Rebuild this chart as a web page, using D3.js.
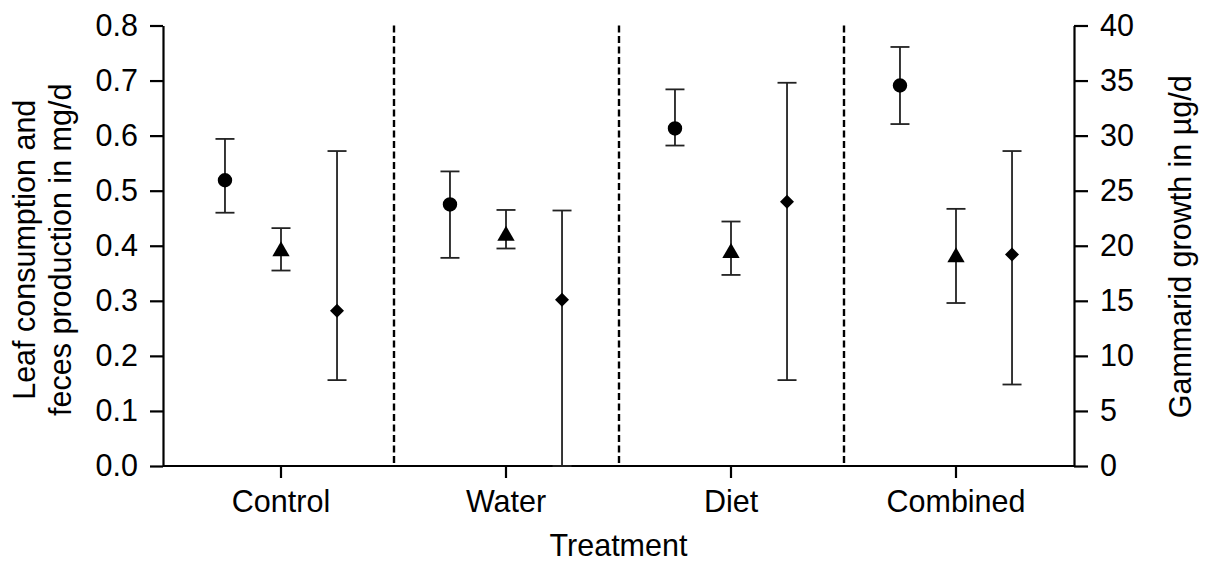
<!DOCTYPE html>
<html>
<head>
<meta charset="utf-8">
<script src="https://cdn.jsdelivr.net/npm/d3@7"></script>
<style>
  body { margin: 0; background: #fff; }
  svg text { font-family: "Liberation Sans", Arial, sans-serif; fill: #000; }
</style>
</head>
<body>
<div id="chart"></div>
<script>
// treatments on the x axis
const categories = ["Control", "Water", "Diet", "Combined"];

// leaf consumption (mg/d, left axis) - circles
const leafMean = [0.519, 0.475, 0.613, 0.691];
const leafLow  = [0.460, 0.378, 0.582, 0.621];
const leafHigh = [0.594, 0.535, 0.684, 0.761];

// feces production (mg/d, left axis) - triangles
const fecesMean = [0.390, 0.418, 0.387, 0.379];
const fecesLow  = [0.355, 0.395, 0.347, 0.296];
const fecesHigh = [0.432, 0.465, 0.444, 0.467];

// gammarid growth (µg/d, right axis) - diamonds
const growthMean = [14.1, 15.1, 24.0, 19.2];
const growthLow  = [7.8, 0, 7.8, 7.4];
const growthHigh = [28.6, 23.2, 34.8, 28.6];

const leftTicks = [0, 0.1, 0.2, 0.3, 0.4, 0.5, 0.6, 0.7, 0.8];
const rightTicks = [0, 5, 10, 15, 20, 25, 30, 35, 40];

const W = 1206, H = 563;
const margin = { top: 25.5, right: 132, bottom: 97, left: 163 };
const width = W - margin.left - margin.right,
    height = H - margin.top - margin.bottom;

const svg = d3.select("#chart").append("svg")
    .attr("width", W)
    .attr("height", H)
    .append("g")
    .attr("transform", "translate(" + margin.left + "," + margin.top + ")");

const x = d3.scaleBand()
    .domain(categories)
    .range([5.5, width - 5.5]);

const series = d3.scalePoint()
    .domain(["leaf", "feces", "growth"])
    .range([-x.bandwidth() * 0.249, x.bandwidth() * 0.249]);

const yL = d3.scaleLinear().domain([0, 0.8]).range([height, 0]);
const yR = d3.scaleLinear().domain([0, 40]).range([height, 0]);

// dashed separators between treatments
svg.selectAll(".sep")
    .data(categories.slice(1))
    .enter().append("line")
    .attr("class", "sep")
    .attr("x1", d => Math.round(x(d))).attr("x2", d => Math.round(x(d)))
    .attr("y1", 0).attr("y2", height)
    .attr("stroke", "#000")
    .attr("stroke-width", 2.4)
    .attr("stroke-dasharray", "7,3.5");

// axes
const axisFont = 30.5;

const gl = svg.append("g")
    .call(d3.axisLeft(yL).tickValues(leftTicks).tickFormat(d3.format(".1f"))
        .tickSize(13).tickSizeOuter(0).tickPadding(12));

const gr = svg.append("g")
    .attr("transform", "translate(" + width + ",0)")
    .call(d3.axisRight(yR).tickValues(rightTicks).tickFormat(d3.format("d"))
        .tickSize(14).tickSizeOuter(0).tickPadding(12));

const gb = svg.append("g")
    .attr("transform", "translate(0," + height + ")")
    .call(d3.axisBottom(x).tickSize(12).tickSizeOuter(0).tickPadding(12));
gb.select(".domain").attr("d", "M0,0H" + width);

[gl, gr, gb].forEach(g => {
    g.selectAll("path, line").attr("stroke", "#000").attr("stroke-width", 2.2);
    g.selectAll("text").attr("font-size", axisFont).attr("fill", "#000");
});

// error bars + markers
const groups = [
    { key: "leaf", mean: leafMean, low: leafLow, high: leafHigh, y: yL },
    { key: "feces", mean: fecesMean, low: fecesLow, high: fecesHigh, y: yL },
    { key: "growth", mean: growthMean, low: growthLow, high: growthHigh, y: yR }
];

const capW = 9.5;

groups.forEach(s => {
    const pts = categories.map((c, i) => ({
        cx: x(c) + x.bandwidth() / 2 + series(s.key),
        m: s.y(s.mean[i]), lo: s.y(s.low[i]), hi: s.y(s.high[i])
    }));

    const g = svg.append("g").attr("class", "series-" + s.key);

    g.selectAll(".stem").data(pts).enter().append("line")
        .attr("x1", d => d.cx).attr("x2", d => d.cx)
        .attr("y1", d => d.hi).attr("y2", d => d.lo);
    g.selectAll(".capH").data(pts).enter().append("line")
        .attr("x1", d => d.cx - capW).attr("x2", d => d.cx + capW)
        .attr("y1", d => d.hi).attr("y2", d => d.hi);
    g.selectAll(".capL").data(pts).enter().append("line")
        .attr("x1", d => d.cx - capW).attr("x2", d => d.cx + capW)
        .attr("y1", d => d.lo).attr("y2", d => d.lo);
    g.selectAll("line").attr("stroke", "#222").attr("stroke-width", 1.8);

    let sym;
    if (s.key === "leaf") sym = d3.symbol(d3.symbolCircle, Math.PI * 52);
    else if (s.key === "feces") sym = d3.symbol(d3.symbolTriangle, 130);
    else sym = d3.symbol(d3.symbolSquare, 98);

    g.selectAll(".mark").data(pts).enter().append("path")
        .attr("d", sym())
        .attr("transform", d => "translate(" + d.cx + "," + d.m + ")" + (s.key === "growth" ? " rotate(45)" : ""))
        .attr("fill", "#000");
});

// axis titles
svg.append("text")
    .attr("transform", "translate(" + (-128) + "," + (height / 2 + 4) + ") rotate(-90)")
    .attr("text-anchor", "middle")
    .attr("font-size", axisFont)
    .text("Leaf consumption and");
svg.append("text")
    .attr("transform", "translate(" + (-92) + "," + (height / 2 + 4) + ") rotate(-90)")
    .attr("text-anchor", "middle")
    .attr("font-size", axisFont)
    .text("feces production in mg/d");

svg.append("text")
    .attr("transform", "translate(" + (width + 117) + "," + (height / 2 + 1) + ") rotate(-90)")
    .attr("text-anchor", "middle")
    .attr("font-size", axisFont)
    .text("Gammarid growth in µg/d");

svg.append("text")
    .attr("x", width / 2)
    .attr("y", height + 90)
    .attr("text-anchor", "middle")
    .attr("font-size", axisFont)
    .text("Treatment");
</script>
</body>
</html>
